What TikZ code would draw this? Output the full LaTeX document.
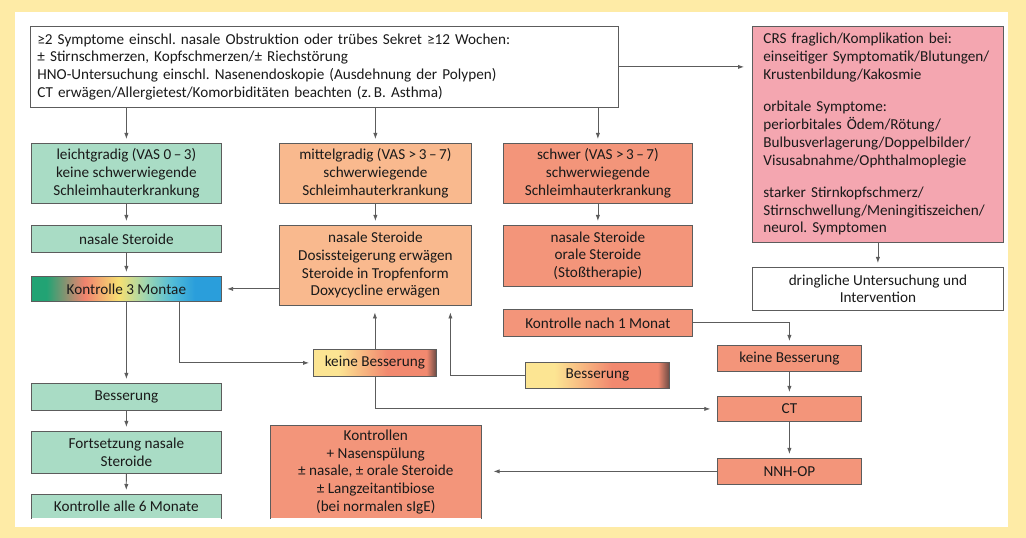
\documentclass[tikz,border=0pt]{standalone}
\usepackage{fontspec}
\setmainfont{Carlito}
\frenchspacing
\usetikzlibrary{arrows.meta,calc}
\definecolor{frameY}{HTML}{FEEBA6}
\definecolor{lineG}{HTML}{5C5C5C}
\definecolor{textK}{HTML}{1A1A1A}
\definecolor{mint}{HTML}{A9DCC5}
\definecolor{peach}{HTML}{F9B98E}
\definecolor{salmon}{HTML}{F3957A}
\definecolor{rose}{HTML}{F4A6B0}
\definecolor{rbG}{HTML}{22A374}
\definecolor{rbR}{HTML}{F0836E}
\definecolor{rbY}{HTML}{F6DF72}
\definecolor{rbL}{HTML}{9FD6B0}
\definecolor{rbC}{HTML}{52BCD8}
\definecolor{rbB}{HTML}{2A9EDB}
\definecolor{ysY}{HTML}{FCE593}
\definecolor{ysS}{HTML}{F2896F}
\definecolor{ysD}{HTML}{6A4A44}
\pgfdeclarehorizontalshading{rainbowk}{100bp}{color(0bp)=(rbG); color(25bp)=(rbG); color(29bp)=(rbG); color(39bp)=(rbR); color(48bp)=(rbY); color(55bp)=(rbL); color(62bp)=(rbC); color(68bp)=(rbB); color(100bp)=(rbB)}
\pgfdeclarehorizontalshading{yelsal}{100bp}{color(0bp)=(ysY); color(25bp)=(ysY); color(35bp)=(ysY); color(55bp)=(ysS); color(71bp)=(ysS); color(75bp)=(ysD); color(100bp)=(ysD)}
\tikzset{
  box/.style={draw=lineG, line width=0.6pt, inner sep=0pt, align=center, anchor=north west,
    font=\fontsize{11.4}{13.3}\selectfont, text=textK},
  openbox/.style={inner sep=0pt, align=center, anchor=north west,
    font=\fontsize{11.4}{13.3}\selectfont, text=textK},
  sz/.style 2 args={minimum width=#1*0.75pt, minimum height=#2*0.75pt},
  arr/.style={draw=lineG, line width=0.6pt, -{Latex[length=4.5pt,width=3.2pt]}, shorten >=3pt},
  edge3/.style={draw=lineG, line width=0.6pt}
}
\begin{document}
\begin{tikzpicture}[x=0.75pt,y=-0.75pt]
\fill[frameY] (0,0) rectangle (1026,538);
\fill[white] (15,12) rectangle (1008,527);
\useasboundingbox (0,0) rectangle (1026,538);

% top
\node[box, fill=white, sz={588}{81}, text width=430.5pt, align=left] (top) at (30,26)
 {≥2 Symptome einschl. nasale Obstruktion oder trübes Sekret ≥12 Wochen:\\
  ± Stirnschmerzen, Kopfschmerzen/± Riechstörung\\
  HNO-Untersuchung einschl. Nasenendoskopie (Ausdehnung der Polypen)\\
  CT erwägen/Allergietest/Komorbiditäten beachten (z.\,B. Asthma)};
\node[box, fill=rose, sz={251}{216}, text width=171.75pt, align=left] (pink) at (752,26)
 {CRS fraglich/Komplikation bei:\\
  einseitiger Symptomatik/Blutungen/\\
  Krustenbildung/Kakosmie\\[11pt]
  orbitale Symptome:\\
  periorbitales Ödem/Rötung/\\
  Bulbusverlagerung/Doppelbilder/\\
  Visusabnahme/Ophthalmoplegie\\[11pt]
  starker Stirnkopfschmerz/\\
  Stirnschwellung/Meningitiszeichen/\\
  neurol. Symptomen};
\node[box, fill=white, sz={251}{43}] (dring) at (752,267) {dringliche Untersuchung und\\Intervention};

% row 1
\node[box, fill=mint, sz={190}{60}] (leicht) at (31,143) {leichtgradig (VAS 0\,–\,3)\\keine schwerwiegende\\Schleimhauterkrankung};
\node[box, fill=peach, sz={192}{60}] (mittel) at (279,143) {mittelgradig (VAS >\,3\,–\,7)\\schwerwiegende\\Schleimhauterkrankung};
\node[box, fill=salmon, sz={189}{60}] (schwer) at (503,143) {schwer (VAS >\,3\,–\,7)\\schwerwiegende\\Schleimhauterkrankung};

% row 2
\node[box, fill=mint, sz={190}{27}] (nas1) at (31,225) {nasale Steroide};
\node[box, fill=peach, sz={192}{80}] (mittel2) at (279,225) {nasale Steroide\\Dosissteigerung erwägen\\Steroide in Tropfenform\\Doxycycline erwägen};
\node[box, fill=salmon, sz={189}{61}] (schwer2) at (503,225) {nasale Steroide\\orale Steroide\\(Stoßtherapie)};

\node[box, shading=rainbowk, sz={190}{25}] (k3) at (31,276) {Kontrolle 3 Montae};

\node[box, fill=salmon, sz={189}{27}] (k1m) at (503,309) {Kontrolle nach 1 Monat};
\node[box, shading=yelsal, sz={123}{27}] (kb1) at (313,349) {keine Besserung};
\node[box, shading=yelsal, sz={144}{26}] (bessY) at (525,362) {Besserung};
\node[box, fill=salmon, sz={144}{26}] (kb2) at (717,345) {keine Besserung};
\node[box, fill=salmon, sz={144}{25}] (ct) at (717,396) {CT};
\node[box, fill=salmon, sz={144}{26}] (nnh) at (717,458) {NNH-OP};

\node[box, fill=mint, sz={190}{27}] (bessG) at (31,383) {Besserung};
\node[box, fill=mint, sz={190}{42}] (forts) at (31,431) {Fortsetzung nasale\\Steroide};
\node[openbox, fill=mint, sz={190}{24}] (k6) at (31,494) {Kontrolle alle 6 Monate};
\draw[edge3] (k6.south west) -- (k6.north west) -- (k6.north east) -- (k6.south east);
\node[openbox, fill=salmon, sz={211}{93}] (kontr) at (270,425) {Kontrollen\\+ Nasenspülung\\± nasale, ± orale Steroide\\± Langzeitantibiose\\(bei normalen sIgE)};
\draw[edge3] (kontr.south west) -- (kontr.north west) -- (kontr.north east) -- (kontr.south east);

% connectors
\draw[arr] (top.south -| leicht.north) -- (leicht.north);
\draw[arr] (top.south -| mittel.north) -- (mittel.north);
\draw[arr] (top.south -| schwer.north) -- (schwer.north);
\draw[arr, shorten >=6pt] (top.east) -- (pink.west |- top.east);
\draw[arr] (pink.south) -- (dring.north);
\draw[arr] (leicht.south) -- (nas1.north);
\draw[arr] (nas1.south) -- (k3.north);
\draw[arr] (mittel.south) -- (mittel2.north);
\draw[arr] (schwer.south) -- (schwer2.north);
\draw[arr, shorten >=4pt] (mittel2.west |- k3.east) -- (k3.east);
\draw[arr] (k3.south) -- (bessG.north);
\draw[arr] ($(k3.south)+(53,0)$) |- (kb1.west);
\draw[arr, shorten >=5pt] (kb1.north) -- (kb1.north |- mittel2.south);
\draw[arr, shorten >=5pt] (bessY.west) -| ($(mittel2.south)+(75,0)$);
\draw[arr, shorten >=5pt] (kb1.south) |- (ct.west);
\draw[arr] (k1m.east) -| (kb2.north);
\draw[arr] (kb2.south) -- (ct.north);
\draw[arr] (ct.south) -- (nnh.north);
\draw[arr, shorten >=9pt] (nnh.west) -- (kontr.east |- nnh.west);
\draw[arr] (bessG.south) -- (forts.north);
\draw[arr] (forts.south) -- (k6.north);
\end{tikzpicture}
\end{document}
